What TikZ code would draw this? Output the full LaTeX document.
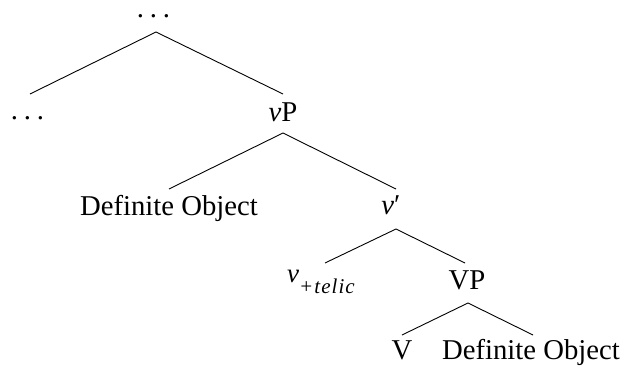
\documentclass[tikz,border=0pt]{standalone}
\usepackage{fontspec}
\setmainfont{Liberation Serif}
\begin{document}
\begin{tikzpicture}[x=1pt,y=-1pt,
  lbl/.style={anchor=base,inner sep=0pt,font=\fontsize{28.7}{34}\selectfont},
  edge/.style={line width=0.9pt,black}]
\useasboundingbox (0,0) rectangle (625,366);
% nodes
\node[lbl] (top) at (153.5,18) {.\kern0.2em.\kern0.2em.};
\node[lbl] (left) at (27.5,119.5) {.\kern0.2em.\kern0.2em.};
\node[lbl] (vP) at (283,122) {\textit{v}P};
\node[lbl] (do1) at (169,216) {Definite Object};
\node[lbl] (vbar) at (391,215) {\textit{v}′};
\node[lbl,anchor=base west] (vtel) at (287,283) {{\fontsize{27}{28}\selectfont\textit{v}}\raisebox{-11pt}{\fontsize{21}{22}\selectfont\addfontfeature{LetterSpace=5}\textit{+telic}}};
\node[lbl] (VP) at (467,290) {VP};
\node[lbl] (V) at (402,360) {V};
\node[lbl] (do2) at (531,360) {Definite Object};
% connector ends
\coordinate (top-b) at (156,32);
\coordinate (left-t) at (30,94);
\coordinate (vP-t) at (283,94);
\coordinate (vP-b) at (283,133);
\coordinate (do1-t) at (169,189);
\coordinate (vbar-t) at (396,189);
\coordinate (vbar-b) at (396,229);
\coordinate (vtel-t) at (325,263);
\coordinate (VP-t) at (465,263);
\coordinate (VP-b) at (468,303);
\coordinate (V-t) at (402,335);
\coordinate (do2-t) at (533,335);
% edges
\draw[edge] (top-b) -- (left-t);
\draw[edge] (top-b) -- (vP-t);
\draw[edge] (vP-b) -- (do1-t);
\draw[edge] (vP-b) -- (vbar-t);
\draw[edge] (vbar-b) -- (vtel-t);
\draw[edge] (vbar-b) -- (VP-t);
\draw[edge] (VP-b) -- (V-t);
\draw[edge] (VP-b) -- (do2-t);
\end{tikzpicture}
\end{document}
